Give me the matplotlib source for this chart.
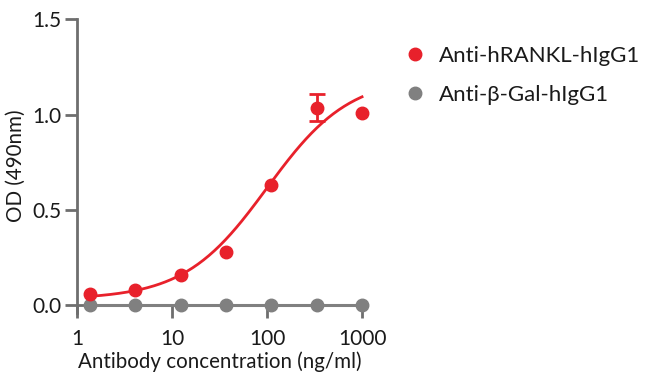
import numpy as np
import matplotlib
matplotlib.use("Agg")
import matplotlib.pyplot as plt
from matplotlib.lines import Line2D

plt.rcParams["font.family"] = ["Lato", "DejaVu Sans"]

# dados (diluição 1:3 a partir de 1000 ng/ml)
conc = [1.37, 4.12, 12.35, 37.04, 111.1, 333.3, 1000.0]
od_rankl = [0.056, 0.081, 0.156, 0.279, 0.629, 1.037, 1.011]
err_rankl = [0.0, 0.0, 0.0, 0.0, 0.0, 0.072, 0.0]
od_bgal = [0.0, 0.0, 0.0, 0.0, 0.0, 0.0, 0.0]

# parâmetros do ajuste 4PL (curva vermelha)
fit_bottom = 0.03
fit_top = 1.2
fit_ec50 = 100.0
fit_hill = 1.0

RED = "#e8212b"
GRAY = "#808080"
AXIS = "#6e6e6e"
TXT = "#1a1a1a"

fig = plt.figure(figsize=(6.5, 3.74), dpi=100)
ax = fig.add_axes([0.1185, 0.163, 0.4385, 0.785])

xs = np.logspace(np.log10(conc[0]), np.log10(conc[-1]), 200)
ys = fit_bottom + (fit_top - fit_bottom) / (1 + (fit_ec50 / xs) ** fit_hill)

ax.plot(conc, od_bgal, color=GRAY, lw=2.2, marker="o", ms=9, clip_on=False, zorder=3)
ax.plot(xs, ys, color=RED, lw=2.0, clip_on=False, zorder=4)
ax.plot(conc, od_rankl, "o", color=RED, ms=9, clip_on=False, zorder=5)
# barra de erro só onde existe
with_err = [i for i, e in enumerate(err_rankl) if e > 0]
ax.errorbar([conc[i] for i in with_err], [od_rankl[i] for i in with_err],
            yerr=[err_rankl[i] for i in with_err], fmt="none",
            ecolor=RED, elinewidth=2, capsize=6, capthick=2, clip_on=False, zorder=5)

ax.set_xscale("log")
ax.set_xlim(1, 1000)
ax.set_ylim(-0.042, 1.5)
ax.set_xticks([1, 10, 100, 1000])
ax.set_xticklabels(["1", "10", "100", "1000"])
ax.minorticks_off()
ax.set_yticks([0, 0.5, 1.0, 1.5])
ax.set_yticklabels(["0.0", "0.5", "1.0", "1.5"])

ax.spines["top"].set_visible(False)
ax.spines["right"].set_visible(False)
ax.spines["bottom"].set_position(("data", 0))
for s in ("left", "bottom"):
    ax.spines[s].set_color(AXIS)
    ax.spines[s].set_linewidth(2)
ax.tick_params(axis="both", color=AXIS, width=2, length=9, labelsize=15,
               labelcolor=TXT, pad=2)
ax.tick_params(axis="x", pad=8)

ax.set_xlabel("Antibody concentration (ng/ml)", fontsize=14.8, color=TXT, labelpad=2)
ax.set_ylabel("OD (490nm)", fontsize=14.8, color=TXT, labelpad=5)

handles = [
    Line2D([], [], color=RED, marker="o", ls="none", ms=9, label="Anti-hRANKL-hIgG1"),
    Line2D([], [], color=GRAY, marker="o", ls="none", ms=9, label="Anti-β-Gal-hIgG1"),
]
fig.legend(handles=handles, loc="upper left", bbox_to_anchor=(0.608, 0.902),
           frameon=False, fontsize=16, handlelength=1.0, handletextpad=0.55,
           labelspacing=0.88, borderaxespad=0, labelcolor=TXT)

fig.savefig("out.png", dpi=100)
